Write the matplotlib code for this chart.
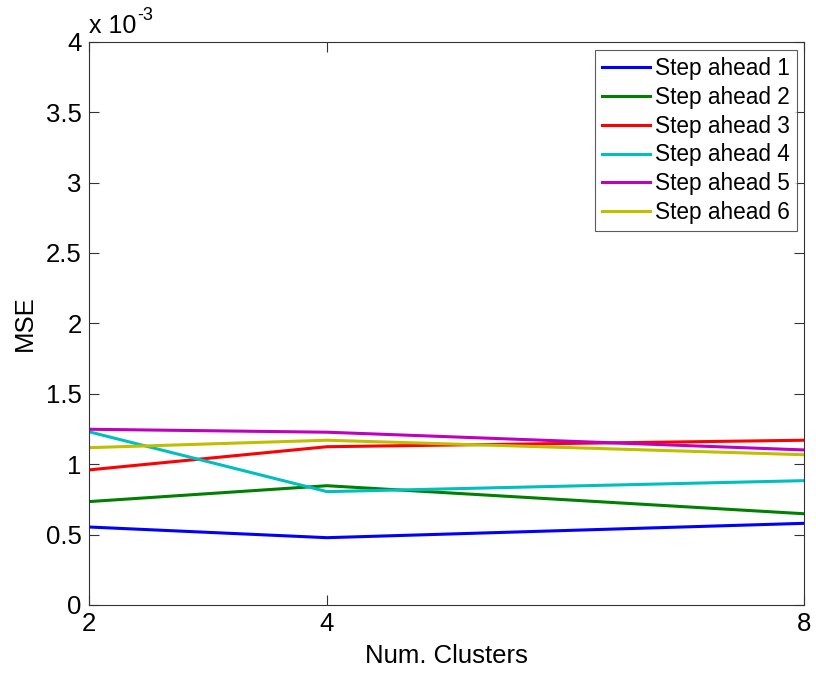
import matplotlib
matplotlib.use("Agg")
import matplotlib.pyplot as plt
from matplotlib.ticker import FuncFormatter

plt.rcParams['font.family'] = ['Liberation Sans', 'DejaVu Sans']

clusters = [2, 4, 8]
series_labels = ["Step ahead 1", "Step ahead 2", "Step ahead 3",
                 "Step ahead 4", "Step ahead 5", "Step ahead 6"]
step1 = [0.554e-3, 0.478e-3, 0.580e-3]
step2 = [0.734e-3, 0.847e-3, 0.648e-3]
step3 = [0.959e-3, 1.124e-3, 1.170e-3]
step4 = [1.231e-3, 0.805e-3, 0.883e-3]
step5 = [1.248e-3, 1.227e-3, 1.101e-3]
step6 = [1.117e-3, 1.170e-3, 1.067e-3]
colors = ["#0000ff", "#008000", "#ff0000", "#00bfbf", "#bf00bf", "#bfbf00"]
y_ticks = [0, 0.5e-3, 1e-3, 1.5e-3, 2e-3, 2.5e-3, 3e-3, 3.5e-3, 4e-3]

W, H = 816, 675
fig = plt.figure(figsize=(W / 100, H / 100), dpi=100)
ax = fig.add_axes([88.5 / W, 1 - 605 / H, (804 - 88.5) / W, (605 - 41.7) / H])

for vals, lab, c in zip([step1, step2, step3, step4, step5, step6], series_labels, colors):
    ax.plot(clusters, vals, color=c, lw=2.2, label=lab)

ax.set_xlim(2, 8)
ax.set_ylim(0, 4e-3)
ax.set_xticks(clusters)
ax.set_yticks(y_ticks)
ax.yaxis.set_major_formatter(FuncFormatter(lambda v, p: f"{v*1e3:g}"))
ax.tick_params(direction='in', length=7, width=0.8, labelsize=18.5, pad=5,
               top=True, right=True, colors='#333333', labelcolor='black')
for s in ax.spines.values():
    s.set_color('#333333')
    s.set_linewidth(0.8)

ax.set_xlabel("Num. Clusters", fontsize=18.5, labelpad=6)
ax.set_ylabel("MSE", fontsize=18.5, labelpad=6)

# exponent marker above the y axis
fig.text(89 / W, 1 - 33 / H, "x 10", fontsize=18, ha='left', va='baseline')
fig.text(137.5 / W, 1 - 20.5 / H, "-3", fontsize=13, ha='left', va='baseline')

leg = ax.legend(loc='upper right', bbox_to_anchor=(797 / W, 1 - 50 / H),
                bbox_transform=fig.transFigure,
                fontsize=16.3, frameon=True, fancybox=False,
                edgecolor='#333333', borderpad=0.3, labelspacing=0.26,
                handlelength=2.1, handletextpad=0.25, borderaxespad=0.0)
leg.get_frame().set_linewidth(0.8)

fig.savefig("out.png", dpi=100)
